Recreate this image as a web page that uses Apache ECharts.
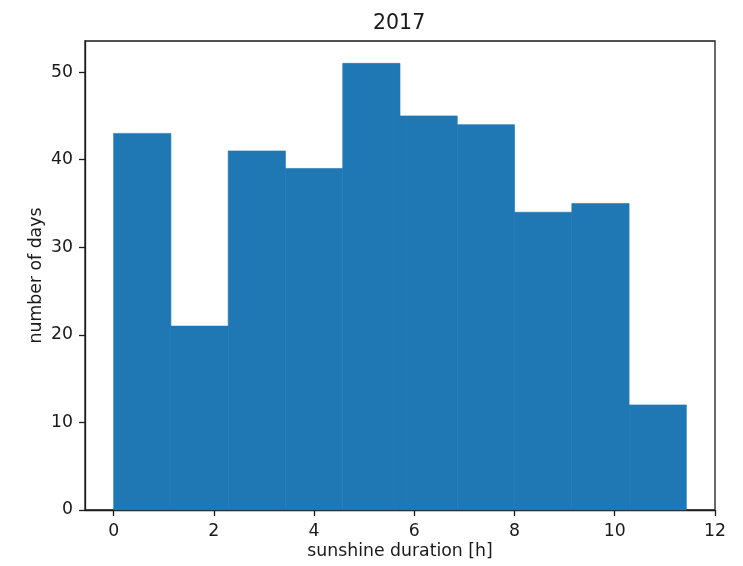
<!DOCTYPE html>
<html>
<head>
<meta charset="utf-8">
<script src="https://cdn.jsdelivr.net/npm/echarts@6/dist/echarts.min.js"></script>
<style>html,body{margin:0;padding:0;background:#fff}#c{width:743px;height:566px}</style>
</head>
<body>
<div id="c"></div>
<script>
const binEdges = [0, 1.143, 2.286, 3.429, 4.572, 5.715, 6.858, 8.001, 9.144, 10.287, 11.43];
const counts = [43, 21, 41, 39, 51, 45, 44, 34, 35, 12];
const xTicks = [0, 2, 4, 6, 8, 10, 12];
const yTicks = [0, 10, 20, 30, 40, 50];
const titleText = '2017';
const xLabel = 'sunshine duration [h]';
const yLabel = 'number of days';

const data = counts.map((c, i) => [binEdges[i], binEdges[i + 1], c]);
const span = binEdges[binEdges.length - 1] - binEdges[0];
const xMin = binEdges[0] - 0.05 * span;
const xMax = binEdges[binEdges.length - 1] + 0.05 * span;
const yMax = Math.max(...counts) * 1.05;

const font = 'DejaVu Sans';
const fs = 17.3;
const ink = '#1a1a1a';
const chart = echarts.init(document.getElementById('c'), null, {renderer: 'canvas'});
chart.setOption({
  animation: false,
  title: {
    text: titleText, left: 368, top: 8,
    textStyle: {fontFamily: font, fontSize: 20.5, fontWeight: 'normal', color: ink}
  },
  grid: {left: 85, right: 28, top: 41, bottom: 56, show: true, borderColor: ink, borderWidth: 1.3, backgroundColor: 'transparent'},
  xAxis: {
    type: 'value', min: xMin, max: xMax,
    name: xLabel, nameLocation: 'middle', nameGap: 33, nameMoveOverlap: false,
    nameTextStyle: {fontFamily: font, fontSize: fs, color: ink},
    axisLine: {show: true, onZero: false, lineStyle: {color: ink, width: 1.3}},
    axisTick: {show: true, inside: false, length: 6, lineStyle: {color: ink, width: 1.3}, customValues: xTicks},
    axisLabel: {fontFamily: font, fontSize: fs, color: ink, margin: 13, customValues: xTicks},
    splitLine: {show: false}
  },
  yAxis: {
    type: 'value', min: 0, max: yMax,
    name: yLabel, nameLocation: 'middle', nameGap: 40, nameMoveOverlap: false,
    nameTextStyle: {fontFamily: font, fontSize: fs, color: ink},
    axisLine: {show: true, onZero: false, lineStyle: {color: ink, width: 1.3}},
    axisTick: {show: true, inside: false, length: 6, lineStyle: {color: ink, width: 1.3}, customValues: yTicks},
    axisLabel: {fontFamily: font, fontSize: fs, color: ink, margin: 12, customValues: yTicks},
    splitLine: {show: false}
  },
  series: [{
    type: 'custom',
    data: data,
    encode: {x: [0, 1], y: 2},
    renderItem: function (params, api) {
      const p0 = api.coord([api.value(0), api.value(2)]);
      const p1 = api.coord([api.value(1), 0]);
      return {
        type: 'rect',
        shape: {x: p0[0], y: p0[1], width: p1[0] - p0[0], height: p1[1] - p0[1]},
        style: {fill: '#1f77b4', stroke: '#1f77b4', lineWidth: 0.6}
      };
    }
  }]
});
</script>
</body>
</html>
